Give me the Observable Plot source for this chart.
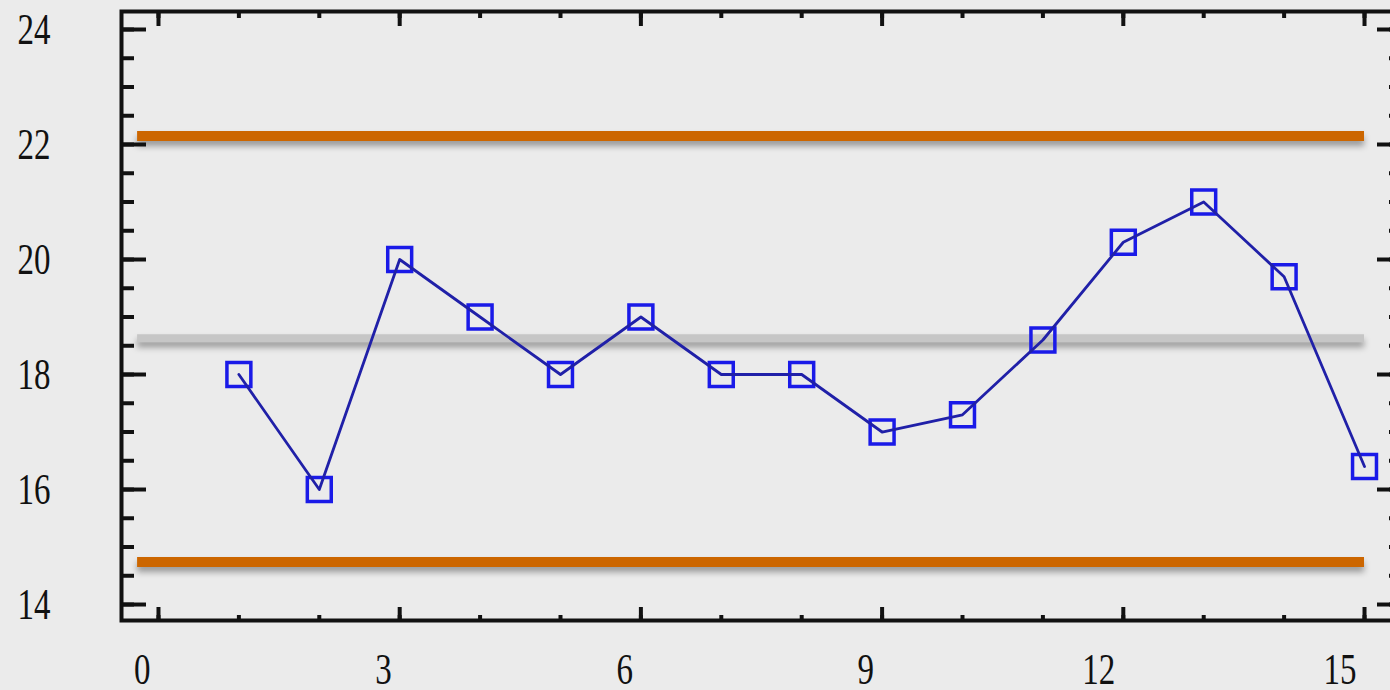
<!DOCTYPE html>
<html><head><meta charset="utf-8">
<script src="https://cdn.jsdelivr.net/npm/d3@7"></script>
<script src="https://cdn.jsdelivr.net/npm/@observablehq/plot@0.6"></script>
<style>
html,body{margin:0;padding:0;background:#EBEBEB;}
#chart{width:1390px;height:690px;overflow:hidden;}
</style></head><body><div id="chart"></div>
<script>
// sample index and measured values
const samples = [1,2,3,4,5,6,7,8,9,10,11,12,13,14,15];
const values = [18,16,20,19,18,19,18,18,17,17.3,18.6,20.3,21,19.7,16.4];
// control limits
const limitValues = [22.15, 14.74];
const centerValues = [18.63];
const limitStart = -0.26;
const limitEnd = 15;
// ticks
const xMajorTicks = [0,3,6,9,12,15];
const xMinorTicks = [0,1,2,3,4,5,6,7,8,9,10,11,12,13,14,15];
const yMajorTicks = [14,16,18,20,22,24];
const yMinorTicks = [14,14.5,15,15.5,16,16.5,17,17.5,18,18.5,19,19.5,20,20.5,21,21.5,22,22.5,23,23.5,24];

const data = samples.map((s, i) => ({x: s, y: values[i]}));
const font = {fontFamily: "Liberation Serif", fontSize: 33, fill: "#111", label: null, tickFormat: (d) => String(d)};
const tickStyle = {stroke: "#111", strokeWidth: 4, tickFormat: () => "", label: null};

const chart = Plot.plot({
  width: 1390,
  height: 690,
  marginLeft: 121,
  marginRight: -11,
  marginTop: 11,
  marginBottom: 70,
  style: {background: "#EBEBEB", overflow: "hidden"},
  x: {domain: [-0.46, 15.46], label: null},
  y: {domain: [13.722, 24.313], label: null},
  marks: [
    Plot.ruleY(limitValues, {x1: limitStart, x2: limitEnd, stroke: "#CC6600", strokeWidth: 10}),
    Plot.ruleY(centerValues, {x1: limitStart, x2: limitEnd, stroke: "#C6C6C6", strokeWidth: 8}),
    Plot.dot(data, {x: "x", y: "y", symbol: "square", r: 13.5, stroke: "#1a1ae8", strokeWidth: 3.5, fill: "none"}),
    Plot.line(data, {x: "x", y: "y", stroke: "#2020a8", strokeWidth: 2.8}),
    Plot.frame({stroke: "#111", strokeWidth: 4}),
    Plot.axisY(yMajorTicks, {anchor: "left", tickSize: -25, ...tickStyle}),
    Plot.axisY(yMinorTicks, {anchor: "left", tickSize: -13, ...tickStyle}),
    Plot.axisY(yMajorTicks, {anchor: "right", tickSize: -25, ...tickStyle}),
    Plot.axisY(yMinorTicks, {anchor: "right", tickSize: -13, ...tickStyle}),
    Plot.axisX(xMajorTicks, {anchor: "bottom", tickSize: -13, ...tickStyle}),
    Plot.axisX(xMinorTicks, {anchor: "bottom", tickSize: -5, ...tickStyle}),
    Plot.axisX(xMajorTicks, {anchor: "top", tickSize: -14, ...tickStyle}),
    Plot.axisX(xMinorTicks, {anchor: "top", tickSize: -6, ...tickStyle}),
    Plot.axisY(yMajorTicks, {anchor: "left", tickSize: 0, tickPadding: 71, ...font}),
    Plot.axisX(xMajorTicks, {anchor: "bottom", tickSize: 0, tickPadding: 32, textAnchor: "end", dx: -8, ...font})
  ]
});

const svg = d3.select(chart);
svg.selectAll('g[aria-label="rule"]').style("filter", "drop-shadow(0px 5px 3px rgba(0,0,0,0.35))");
svg.selectAll('g[aria-label="y-axis tick label"] text, g[aria-label="x-axis tick label"] text')
  .attr("transform", function() { return (this.getAttribute("transform") || "") + " scale(1,1.35)"; });

document.getElementById("chart").appendChild(chart);
</script></body></html>
